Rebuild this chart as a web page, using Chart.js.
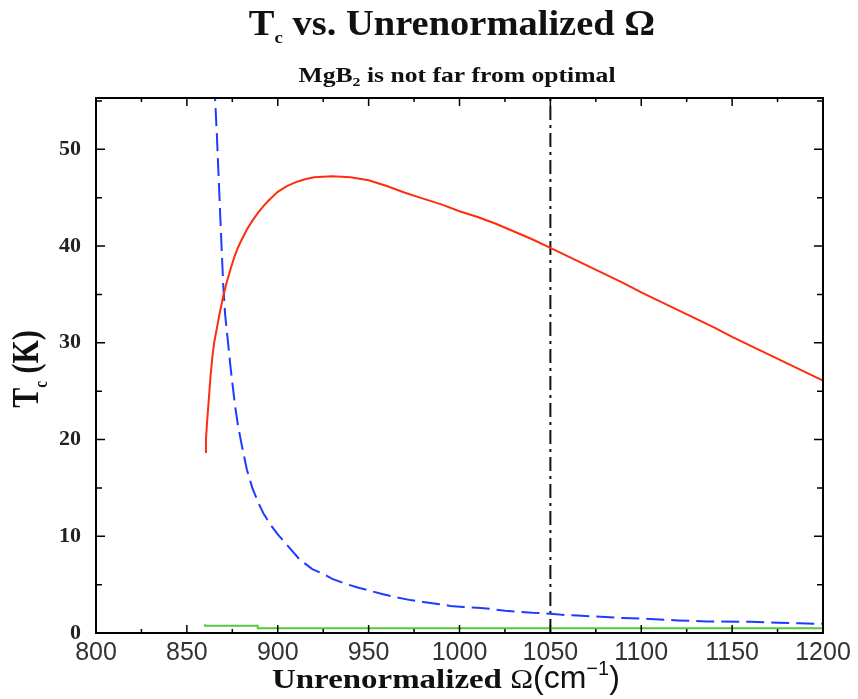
<!DOCTYPE html>
<html>
<head>
<meta charset="utf-8">
<script src="https://cdn.jsdelivr.net/npm/chart.js@4.4.1/dist/chart.umd.min.js"></script>
<style>
html,body{margin:0;padding:0;background:#fff;}
canvas{display:block;}
</style>
</head>
<body>
<canvas id="c" width="858" height="699"></canvas>
<script>
// ---- data ----
const xTickValues = [800, 850, 900, 950, 1000, 1050, 1100, 1150, 1200];
const xMinorTicks = [825, 875, 925, 975, 1025, 1075, 1125, 1175];
const yTickValues = [0, 10, 20, 30, 40, 50];
const yMinorTicks = [5, 15, 25, 35, 45, 55];
const xMin = 800, xMax = 1200, yMin = 0, yMax = 55.3;

const redOmega = [860, 860.5, 861, 862, 863, 864, 865, 866.5, 868, 870, 872, 874, 876, 878, 880, 883, 886, 889, 892, 895, 900, 905, 910, 915, 920, 930, 940, 950, 960, 970, 980, 990, 1000, 1010, 1020, 1030, 1040, 1050, 1060, 1070, 1080, 1090, 1100, 1110, 1120, 1130, 1140, 1150, 1160, 1170, 1180, 1190, 1200];
const redTc    = [18.7, 20.0, 21.5, 24.0, 26.5, 28.5, 30.0, 31.5, 33.0, 34.8, 36.3, 37.6, 38.8, 39.8, 40.6, 41.7, 42.6, 43.4, 44.1, 44.7, 45.6, 46.2, 46.6, 46.9, 47.1, 47.2, 47.1, 46.8, 46.2, 45.5, 44.9, 44.3, 43.6, 43.0, 42.3, 41.5, 40.7, 39.8, 38.9, 38.0, 37.1, 36.2, 35.2, 34.3, 33.4, 32.5, 31.6, 30.6, 29.7, 28.8, 27.9, 27.0, 26.1];

const blueOmega = [864.5, 865.5, 866.5, 867.5, 868.5, 869.3, 870, 871, 872.5, 874, 875, 876.5, 878, 880, 883, 886, 889, 892, 896, 900, 906, 912, 919, 925, 930, 937, 944, 950, 958, 965, 973, 980, 988, 995, 1002, 1010, 1017, 1025, 1032, 1040, 1046, 1055, 1065, 1075, 1090, 1105, 1120, 1136, 1160, 1175, 1187, 1200];
const blueTc    = [62, 55.3, 51.5, 47.0, 42.5, 39.0, 36.0, 33.0, 30.3, 27.5, 25.9, 23.5, 21.6, 19.6, 16.9, 15.0, 13.6, 12.4, 11.2, 10.2, 8.9, 7.6, 6.6, 6.1, 5.6, 5.1, 4.7, 4.4, 4.0, 3.7, 3.4, 3.2, 3.0, 2.8, 2.7, 2.6, 2.5, 2.3, 2.2, 2.1, 2.05, 1.9, 1.8, 1.7, 1.55, 1.45, 1.3, 1.2, 1.15, 1.05, 1.0, 0.95];

const greenOmega = [860, 889, 1025, 1200];
const greenTc    = [0.9, 0.75, 0.5, 0.5];

const mgb2Omega = 1050;

// ---- helpers ----
const pts = (xs, ys) => xs.map((x, i) => ({x: x, y: ys[i]}));

function drawParts(ctx, parts, x, baseline, align) {
  const widths = parts.map(p => { ctx.font = p.font; return ctx.measureText(p.text).width * (p.sx || 1); });
  const total = widths.reduce((a, b) => a + b, 0);
  let cur = align === 'center' ? x - total / 2 : x;
  parts.forEach((p, i) => {
    ctx.save();
    ctx.font = p.font;
    ctx.translate(cur, baseline + (p.dy || 0));
    ctx.scale(p.sx || 1, 1);
    ctx.textAlign = 'left';
    ctx.textBaseline = 'alphabetic';
    ctx.fillText(p.text, 0, 0);
    ctx.restore();
    cur += widths[i];
  });
}

const SERIF = '"Liberation Serif", "Times New Roman", serif';
const SANS = '"Liberation Sans", Arial, sans-serif';

const framePlugin = {
  id: 'frameTicks',
  afterDatasetsDraw(chart) {
    const {ctx, chartArea: a, scales: {x, y}} = chart;
    ctx.save();
    ctx.strokeStyle = '#000';
    ctx.lineWidth = 1.5;
    ctx.beginPath();
    const tickX = (v, len) => {
      const px = x.getPixelForValue(v);
      ctx.moveTo(px, a.bottom); ctx.lineTo(px, a.bottom - len);
      ctx.moveTo(px, a.top); ctx.lineTo(px, a.top + len);
    };
    const tickY = (v, len) => {
      const py = y.getPixelForValue(v);
      ctx.moveTo(a.left, py); ctx.lineTo(a.left + len, py);
      ctx.moveTo(a.right, py); ctx.lineTo(a.right - len, py);
    };
    xTickValues.forEach(v => tickX(v, 8));
    xMinorTicks.forEach(v => tickX(v, 4));
    yTickValues.forEach(v => tickY(v, 9));
    yMinorTicks.forEach(v => { if (v <= yMax) tickY(v, 6); });
    ctx.stroke();
    ctx.lineWidth = 2;
    ctx.strokeRect(a.left, a.top, a.right - a.left, a.bottom - a.top);
    ctx.restore();
  }
};

const titlePlugin = {
  id: 'titles',
  afterDraw(chart) {
    const ctx = chart.ctx;
    ctx.save();
    ctx.fillStyle = '#111';
    // main title
    drawParts(ctx, [
      {text: 'T', font: 'bold 35px ' + SERIF, sx: 1.1},
      {text: 'c', font: 'bold 17px ' + SERIF, sx: 1.1, dy: 8},
      {text: ' vs. Unrenormalized \u03A9', font: 'bold 35px ' + SERIF, sx: 1.1}
    ], 452, 35, 'center');
    // subtitle
    drawParts(ctx, [
      {text: 'MgB', font: 'bold 21px ' + SERIF, sx: 1.22},
      {text: '2', font: 'bold 13px ' + SERIF, sx: 1.22, dy: 4},
      {text: ' is not far from optimal', font: 'bold 21px ' + SERIF, sx: 1.22}
    ], 457, 82, 'center');
    // x axis title
    drawParts(ctx, [
      {text: 'Unrenormalized ', font: 'bold 27px ' + SERIF, sx: 1.22},
      {text: '\u03A9', font: '28px ' + SERIF, sx: 1.1},
      {text: '(cm', font: '32px ' + SANS},
      {text: '\u22121', font: '20px ' + SANS, dy: -13},
      {text: ')', font: '32px ' + SANS}
    ], 272, 688, 'left');
    // y axis title (rotated)
    ctx.translate(38, 369);
    ctx.rotate(-Math.PI / 2);
    ctx.scale(1, 1.26);
    drawParts(ctx, [
      {text: 'T', font: 'bold 30px ' + SERIF},
      {text: 'c', font: 'bold 15px ' + SERIF, dy: 7},
      {text: ' (K)', font: 'bold 30px ' + SERIF}
    ], 0, 0, 'center');
    ctx.restore();
  }
};

new Chart(document.getElementById('c'), {
  type: 'line',
  data: {
    datasets: [
      {data: pts(redOmega, redTc), borderColor: 'rgb(255,45,15)', borderWidth: 2, pointRadius: 0, tension: 0, fill: false, clip: 0},
      {data: pts(blueOmega, blueTc), borderColor: 'rgb(30,60,255)', borderWidth: 2, borderDash: [18, 7], pointRadius: 0, tension: 0, fill: false, clip: 0},
      {data: pts(greenOmega, greenTc), borderColor: 'rgb(85,200,60)', borderWidth: 2, stepped: 'after', pointRadius: 0, fill: false, clip: 0},
      {data: [{x: mgb2Omega, y: yMin}, {x: mgb2Omega, y: yMax}], borderColor: '#111', borderWidth: 2, borderDash: [14, 5, 3, 5], pointRadius: 0, fill: false, clip: 0}
    ]
  },
  options: {
    responsive: false,
    animation: false,
    devicePixelRatio: 1,
    layout: {padding: {top: 98, right: 35, left: 0, bottom: 0}},
    plugins: {legend: {display: false}, tooltip: {enabled: false}, title: {display: false}},
    scales: {
      x: {
        type: 'linear', min: xMin, max: xMax,
        afterBuildTicks: s => { s.ticks = xTickValues.map(v => ({value: v})); },
        afterFit: s => { s.height = 66; },
        grid: {display: false, drawTicks: false},
        border: {display: false},
        ticks: {font: {family: SANS, size: 25}, color: '#333', padding: 5, maxRotation: 0, autoSkip: false, callback: v => String(v)}
      },
      y: {
        type: 'linear', min: yMin, max: yMax,
        afterBuildTicks: s => { s.ticks = yTickValues.map(v => ({value: v})); },
        afterFit: s => { s.width = 96; },
        grid: {display: false, drawTicks: false},
        border: {display: false},
        ticks: {font: {family: SERIF, size: 22, weight: 'bold'}, color: '#222', padding: 15, autoSkip: false, callback: v => String(v)}
      }
    }
  },
  plugins: [framePlugin, titlePlugin]
});
</script>
</body>
</html>
